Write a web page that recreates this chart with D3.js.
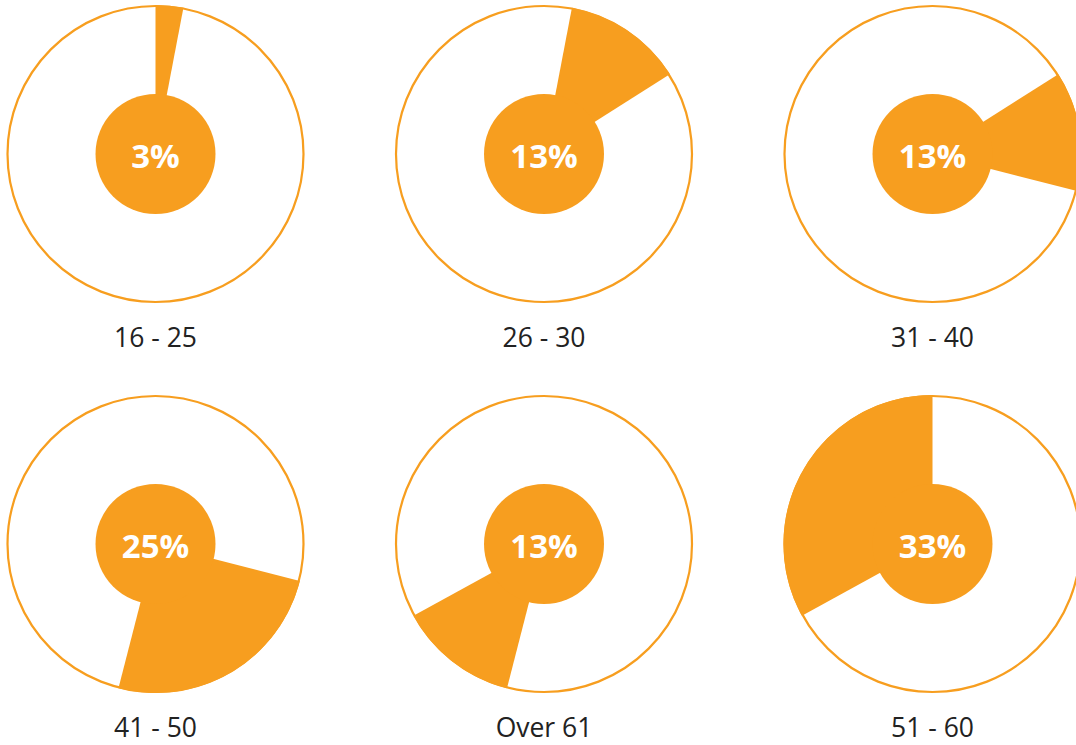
<!DOCTYPE html>
<html>
<head>
<meta charset="utf-8">
<script src="https://cdn.jsdelivr.net/npm/d3@7"></script>
<style>
  body { margin: 0; background: #fff; }
</style>
</head>
<body>
<script>
// age groups and their share, in the order the wedges run round the dial
let groups = ["16 - 25", "26 - 30", "31 - 40", "41 - 50", "Over 61", "51 - 60"];
let shares = [3, 13, 13, 25, 13, 33];

let width = 1076;
let height = 745;
let orange = "#F79E1F";

let svg = d3.select("body").append("svg")
	.attr("width", width)
	.attr("height", height);

// each wedge starts where the one before ended, so one pie over all of them
let pie = d3.pie().sort(null).value(d => d);
let slices = pie(shares);

let outerR = 148;
let innerR = 60;

let arc = d3.arc()
	.innerRadius(0)
	.outerRadius(outerR + 1);

// grid of 3 columns x 2 rows
let colX = d3.scalePoint().domain([0, 1, 2]).range([155.5, 932.5]);
let rowY = d3.scalePoint().domain([0, 1]).range([154, 544]);

let cells = svg.selectAll("g.cell")
	.data(slices)
	.join("g")
	.attr("class", "cell")
	.attr("transform", (d, i) => `translate(${colX(i % 3)}, ${rowY(Math.floor(i / 3))})`);

cells.append("circle") //outer ring
	.attr("r", outerR)
	.attr("fill", "#fff")
	.attr("stroke", orange)
	.attr("stroke-width", 2.2);

cells.append("path") //the share wedge
	.attr("d", arc)
	.attr("fill", orange);

cells.append("circle") //centre disc
	.attr("r", innerR)
	.attr("fill", orange);

cells.append("text") //percentage
	.attr("text-anchor", "middle")
	.attr("y", 14)
	.attr("font-family", "'Open Sans', sans-serif")
	.attr("font-weight", "bold")
	.attr("font-size", 33)
	.attr("fill", "#fff")
	.text(d => d.data + "%");

cells.append("text") //age group label
	.attr("text-anchor", "middle")
	.attr("y", 193)
	.attr("font-family", "'Open Sans', sans-serif")
	.attr("font-size", 26.5)
	.attr("fill", "#222")
	.text((d, i) => groups[i]);
</script>
</body>
</html>
